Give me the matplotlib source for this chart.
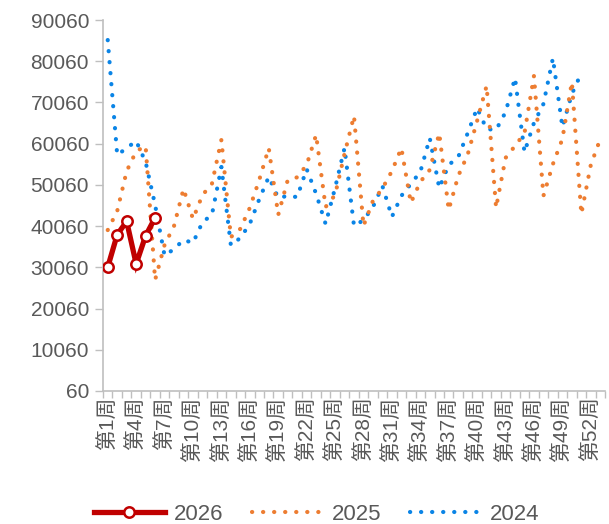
import numpy as np
import matplotlib; matplotlib.use("Agg")
import matplotlib.pyplot as plt

# weekly values
v2026 = [30100, 38000, 41200, 30900, 37700, 42100]
v2025 = [39100, 43700, 53400, 58200, 59500, 27000, 35500, 40100, 49100, 41800,
         47600, 50300, 61000, 37400, 39400, 44500, 51300, 59000, 42800, 51200,
         51900, 54900, 62200, 44700, 47600, 57600, 66800, 40100, 46200, 49200,
         53400, 59000, 45700, 50800, 53700, 62600, 44000, 52200, 57400, 65600,
         74100, 44500, 56600, 59500, 62600, 76500, 47400, 55100, 61200, 75000,
         43000, 54900, 61200]
v2024 = [85200, 57300, 59000, 60700, 55600, 45200, 32900, 34500, 36700, 36000,
         41000, 42800, 54400, 35400, 37200, 40600, 46600, 52000, 46900, 47400,
         47100, 53900, 47900, 40600, 49300, 59000, 40100, 41500, 44700, 49800,
         42300, 47400, 50300, 53200, 61400, 49300, 54900, 56800, 62600, 68700,
         63600, 63400, 67700, 76000, 58000, 65100, 69700, 80800, 64100, 72100,
         77200]
N_WEEKS = 53
tick_weeks = [1, 4, 7, 10, 13, 16, 19, 22, 25, 28, 31, 34, 37, 40, 43, 46, 49, 52]
tick_labels = ["第1周", "第4周", "第7周", "第10周", "第13周", "第16周", "第19周", "第22周",
               "第25周", "第28周", "第31周", "第34周", "第37周", "第40周", "第43周",
               "第46周", "第49周", "第52周"]
y_ticks = [60, 10060, 20060, 30060, 40060, 50060, 60060, 70060, 80060, 90060]

FONTS = ["Liberation Sans", "Noto Sans CJK SC", "DejaVu Sans"]
GREY_TXT = "#595959"; GREY_AX = "#BFBFBF"

fig = plt.figure(figsize=(6.09, 5.24), dpi=100)
ax = fig.add_axes([103/609, 1-391/524, (605-103)/609, (391-20)/524])

wk = lambda v: np.arange(1, len(v) + 1)
dots = (0, (0.05, 2.6))
ax.plot(wk(v2024), v2024, color="#0A84E6", lw=3.0, ls=dots, dash_capstyle="round", label="2024", zorder=2)
ax.plot(wk(v2025), v2025, color="#ED7D31", lw=3.0, ls=dots, dash_capstyle="round", label="2025", zorder=3)
ax.plot(wk(v2026), v2026, color="#C00000", lw=3.8, marker="o", ms=7.5, mfc="white",
        mec="#C00000", mew=1.8, solid_joinstyle="miter", label="2026", zorder=4)

ax.set_xlim(0.5, N_WEEKS + 0.5); ax.set_ylim(y_ticks[0], y_ticks[-1])
ax.set_yticks(y_ticks)
ax.set_yticklabels([str(t) for t in y_ticks], family=FONTS, fontsize=15, color=GREY_TXT)
ax.set_xticks(tick_weeks)
ax.set_xticklabels(tick_labels, rotation=90, family=FONTS, fontsize=15, color=GREY_TXT,
                   ha="center", va="top")
ax.set_xticks(np.arange(0.5, N_WEEKS + 1), minor=True)
ax.tick_params(axis="x", which="major", length=0, pad=4)
ax.tick_params(axis="x", which="minor", length=5, color=GREY_AX, width=1)
ax.tick_params(axis="y", length=6, color=GREY_AX, width=1, pad=4)
for s in ["top", "right"]: ax.spines[s].set_visible(False)
for s in ["left", "bottom"]: ax.spines[s].set_color(GREY_AX); ax.spines[s].set_linewidth(1.2)

h, l = ax.get_legend_handles_labels()
order = [2, 1, 0]
leg = fig.legend([h[i] for i in order], [l[i] for i in order], ncol=3, loc="lower center",
                 bbox_to_anchor=(0.52, -0.04), frameon=False, handlelength=3.2,
                 columnspacing=1.3, handletextpad=0.4, prop={"family": FONTS, "size": 16})
for t in leg.get_texts(): t.set_color(GREY_TXT)

fig.savefig("out.png", dpi=100)
